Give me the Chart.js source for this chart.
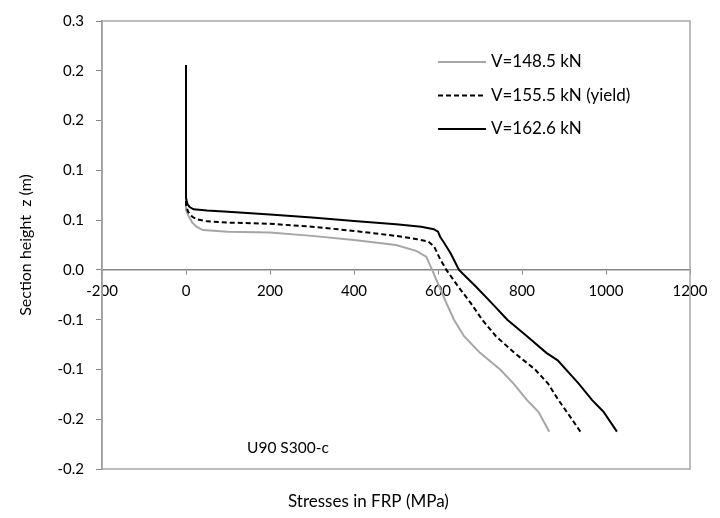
<!DOCTYPE html>
<html>
<head>
<meta charset="utf-8">
<script src="https://cdn.jsdelivr.net/npm/chart.js@4"></script>
<style>
  body { margin: 0; background: #fff; }
  #wrap { width: 720px; height: 518px; }
</style>
</head>
<body>
<div id="wrap"><canvas id="stressChart" width="720" height="518"></canvas></div>
<script>
// series labels
var seriesLabels = ['V=148.5 kN', 'V=155.5 kN (yield)', 'V=162.6 kN'];

// stress in FRP (MPa) vs section height z (m)
var stress148 = [0, 0, 5, 15, 25, 40, 100, 200, 300, 400, 500, 548, 572, 586, 603, 620, 638, 662, 700, 748, 780, 812, 839, 865];
var z148      = [0.247, 0.072, 0.066, 0.057, 0.052, 0.048, 0.046, 0.045, 0.041, 0.036, 0.030, 0.023, 0.016, 0.0, -0.02, -0.04, -0.06, -0.08, -0.10, -0.12, -0.137, -0.157, -0.171, -0.195];

var stress155 = [0, 0, 5, 15, 26, 50, 100, 200, 300, 400, 500, 550, 577, 591, 605, 620, 648, 678, 705, 738, 782, 831, 862, 887, 912, 939];
var z155      = [0.247, 0.078, 0.070, 0.064, 0.061, 0.0585, 0.057, 0.0556, 0.052, 0.047, 0.041, 0.037, 0.034, 0.028, 0.013, 0.0, -0.02, -0.04, -0.06, -0.08, -0.10, -0.12, -0.137, -0.157, -0.175, -0.195];

var stress162 = [0, 0, 3, 8, 18, 50, 100, 200, 300, 400, 500, 560, 590, 600, 605, 614, 630, 642, 650, 690, 728, 765, 812, 858, 885, 935, 967, 994, 1026];
var z162      = [0.247, 0.087, 0.080, 0.076, 0.073, 0.0715, 0.070, 0.0667, 0.063, 0.059, 0.055, 0.052, 0.049, 0.046, 0.040, 0.033, 0.020, 0.008, 0.0, -0.02, -0.04, -0.06, -0.08, -0.10, -0.109, -0.137, -0.157, -0.171, -0.195];

// axis ticks
var xTicks = [-200, 0, 200, 400, 600, 800, 1000, 1200];
var yTicks = [-0.24, -0.18, -0.12, -0.06, 0, 0.06, 0.12, 0.18, 0.24, 0.3];

function toPoints(xs, ys) {
    var pts = [];
    for (var i = 0; i < xs.length; i++) {
        pts.push({ x: xs[i], y: ys[i] });
    }
    return pts;
}

var FONT = 'Lato, "Liberation Sans", sans-serif';

// frame around the plot area, legend inside it, and the extra texts
var framePlugin = {
    id: 'frame',
    beforeDatasetsDraw: function(chart) {
        var a = chart.chartArea, ctx = chart.ctx;
        ctx.save();
        ctx.strokeStyle = '#a6a6a6';
        ctx.lineWidth = 1.5;
        ctx.strokeRect(a.left, a.top, a.right - a.left, a.bottom - a.top);
        ctx.restore();
    },
    afterDraw: function(chart) {
        var ctx = chart.ctx;
        ctx.save();
        // legend
        chart.data.datasets.forEach(function(ds, i) {
            var y = 62 + i * 33.5;
            ctx.strokeStyle = ds.borderColor;
            ctx.lineWidth = ds.borderWidth;
            ctx.setLineDash(ds.borderDash || []);
            ctx.beginPath();
            ctx.moveTo(438, y);
            ctx.lineTo(486, y);
            ctx.stroke();
            ctx.setLineDash([]);
            ctx.fillStyle = '#000';
            ctx.font = '17px ' + FONT;
            ctx.textBaseline = 'middle';
            ctx.textAlign = 'left';
            ctx.fillText(ds.label, 491, y);
        });
        // specimen note
        ctx.fillStyle = '#000';
        ctx.font = '15.5px ' + FONT;
        ctx.textBaseline = 'middle';
        ctx.fillText('U90 S300-c', 247, 448);
        // x axis title
        ctx.font = '17px ' + FONT;
        ctx.fillText('Stresses in FRP (MPa)', 288, 502);
        ctx.restore();
    }
};

var ctx = document.getElementById('stressChart').getContext('2d');

var stressChart = new Chart(ctx, {
    type: 'scatter',
    data: {
        datasets: [{
            label: seriesLabels[0],
            data: toPoints(stress148, z148),
            showLine: true,
            borderColor: '#a6a6a6',
            borderWidth: 2,
            pointRadius: 0,
            order: 3
        }, {
            label: seriesLabels[1],
            data: toPoints(stress155, z155),
            showLine: true,
            borderColor: '#000000',
            borderWidth: 2,
            borderDash: [5, 3],
            pointRadius: 0,
            order: 2
        }, {
            label: seriesLabels[2],
            data: toPoints(stress162, z162),
            showLine: true,
            borderColor: '#000000',
            borderWidth: 2,
            pointRadius: 0,
            order: 1
        }]
    },
    options: {
        responsive: false,
        animation: false,
        layout: {
            padding: { left: 12, top: 19, right: 30, bottom: 49 }
        },
        scales: {
            x: {
                type: 'linear',
                position: { y: 0 },
                min: -200,
                max: 1200,
                afterBuildTicks: function(scale) {
                    scale.ticks = xTicks.map(function(v) { return { value: v }; });
                },
                grid: {
                    drawOnChartArea: false,
                    drawTicks: true,
                    tickLength: 4,
                    color: '#868686'
                },
                border: { color: '#868686', width: 1.5 },
                ticks: {
                    color: '#000',
                    font: { family: FONT, size: 15 },
                    padding: 8,
                    maxRotation: 0,
                    callback: function(value) {
                        return String(value);
                    }
                }
            },
            y: {
                type: 'linear',
                min: -0.24,
                max: 0.3,
                afterBuildTicks: function(scale) {
                    scale.ticks = yTicks.map(function(v) { return { value: v }; });
                },
                afterFit: function(scale) {
                    scale.width = 90;
                },
                grid: {
                    drawOnChartArea: false,
                    drawTicks: true,
                    tickLength: 6,
                    color: '#868686'
                },
                border: { color: '#868686', width: 1.5 },
                ticks: {
                    color: '#000',
                    font: { family: FONT, size: 15 },
                    padding: 12,
                    callback: function(value) {
                        return Number(value).toFixed(1);
                    }
                },
                title: {
                    display: true,
                    text: 'Section height  z (m)',
                    color: '#000',
                    font: { family: FONT, size: 16 },
                    padding: { top: 4, bottom: 0 }
                }
            }
        },
        plugins: {
            legend: { display: false },
            tooltip: { enabled: false }
        }
    },
    plugins: [framePlugin]
});
</script>
</body>
</html>
